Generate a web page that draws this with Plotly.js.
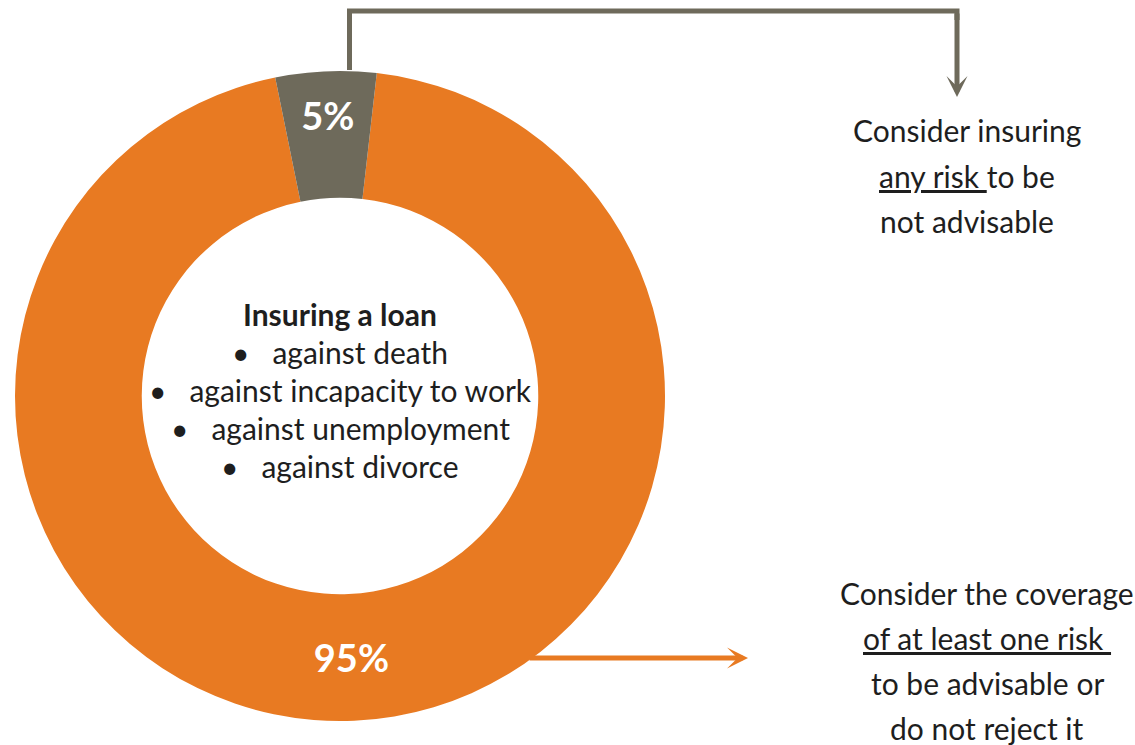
<!DOCTYPE html>
<html>
<head>
<meta charset="utf-8">
<script src="https://cdn.plot.ly/plotly-3.0.1.min.js"></script>
<style>
  html, body { margin: 0; padding: 0; background: #fff; }
  #chart { width: 1135px; height: 745px; }
</style>
</head>
<body>
<div id="chart"></div>
<script>
// slice data
let sliceLabels = ['Advisable / not rejected', 'Not advisable'];
let sliceValues = [95, 5];
let sliceColors = ['#e87a22', '#6e6a5b'];

// texts
let centerTitle = 'Insuring a loan';
let centerItems = ['against death', 'against incapacity to work', 'against unemployment', 'against divorce'];
let topNote = ['Consider insuring', '<u>any risk\u00a0</u>to be', 'not advisable'];
let bottomNote = ['Consider the coverage', '<u>of at least one risk\u00a0</u>', 'to be advisable or', 'do not reject it'];

const W = 1135, H = 745;
const px = (x) => x / W;
const py = (y) => 1 - y / H;

let FONT = 'Lato, "Open Sans", sans-serif';
let TXT = '#1e1e1e';
let FS = 30;

let data = [{
    type: 'pie',
    labels: sliceLabels,
    values: sliceValues,
    marker: { colors: sliceColors, line: { color: '#ffffff', width: 0 } },
    hole: 0.61,
    sort: false,
    direction: 'clockwise',
    rotation: 6.5,
    texttemplate: '<b>%{percent}</b>',
    textposition: 'inside',
    insidetextorientation: 'horizontal',
    textfont: { family: FONT, size: 38, color: '#ffffff' },
    hoverinfo: 'none',
    domain: { x: [px(15), px(665)], y: [py(721), py(71)] },
}];

let annotations = [];

// center block
annotations.push({
    xref: 'paper', yref: 'paper', x: px(340), y: py(314),
    text: '<b>' + centerTitle + '</b>', showarrow: false,
    xanchor: 'center', yanchor: 'middle',
    font: { family: FONT, size: FS, color: TXT },
});
centerItems.forEach(function (t, i) {
    annotations.push({
        xref: 'paper', yref: 'paper', x: px(340), y: py(352 + i * 38),
        text: '•\u00a0\u00a0\u00a0' + t, showarrow: false,
        xanchor: 'center', yanchor: 'middle',
        font: { family: FONT, size: FS, color: TXT },
    });
});

// right notes
topNote.forEach(function (t, i) {
    annotations.push({
        xref: 'paper', yref: 'paper', x: px(967), y: py(130 + i * 45.5),
        text: t, showarrow: false, xanchor: 'center', yanchor: 'middle',
        font: { family: FONT, size: FS, color: TXT },
    });
});
bottomNote.forEach(function (t, i) {
    annotations.push({
        xref: 'paper', yref: 'paper', x: px(987), y: py(593 + i * 45),
        text: t, showarrow: false, xanchor: 'center', yanchor: 'middle',
        font: { family: FONT, size: FS, color: TXT },
    });
});

// arrows
annotations.push({
    xref: 'paper', yref: 'paper', x: px(957), y: py(97),
    ax: 0, ay: -85, text: '', showarrow: true,
    arrowhead: 3, arrowsize: 0.7, arrowwidth: 5, arrowcolor: '#6e6a5b',
});
annotations.push({
    xref: 'paper', yref: 'paper', x: px(748), y: py(658),
    ax: -220, ay: 0, text: '', showarrow: true,
    arrowhead: 3, arrowsize: 0.7, arrowwidth: 5, arrowcolor: '#e87a22',
});

let layout = {
    width: W,
    height: H,
    margin: { l: 0, r: 0, t: 0, b: 0, pad: 0 },
    showlegend: false,
    paper_bgcolor: '#ffffff',
    plot_bgcolor: '#ffffff',
    annotations: annotations,
    shapes: [{
        type: 'path', xref: 'paper', yref: 'paper',
        path: 'M' + px(349.5) + ',' + py(70) + ' L' + px(349.5) + ',' + py(11) +
              ' L' + px(957) + ',' + py(11) + ' L' + px(957) + ',' + py(20),
        line: { color: '#6e6a5b', width: 5 },
    }],
};

Plotly.newPlot('chart', data, layout, { staticPlot: true });
</script>
</body>
</html>
